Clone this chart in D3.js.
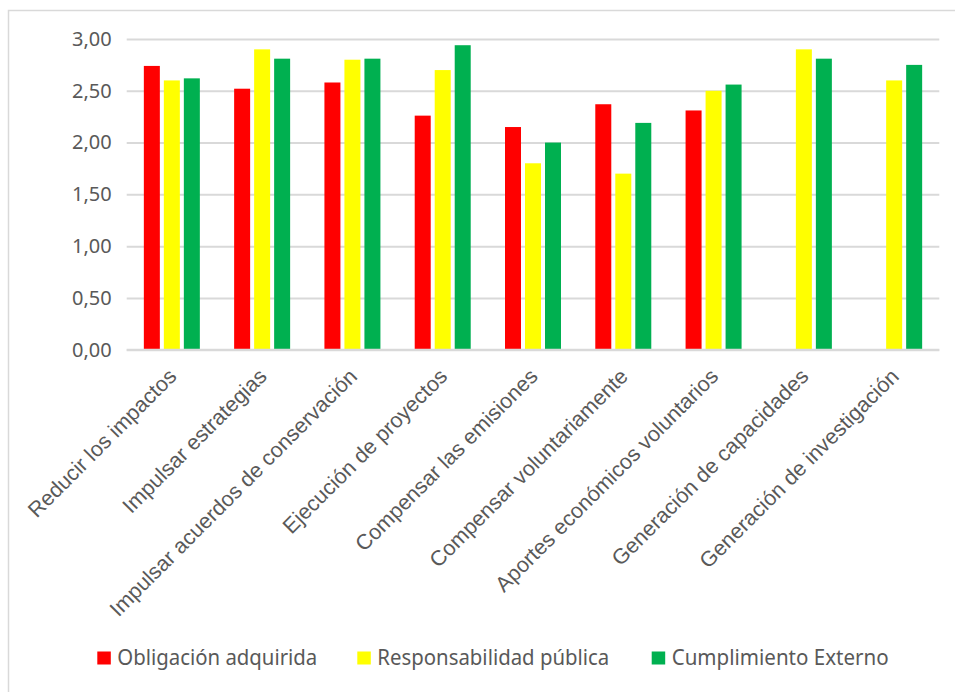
<!DOCTYPE html>
<html><head><meta charset="utf-8">
<script src="https://cdn.jsdelivr.net/npm/d3@7"></script>
<style>body{margin:0;background:#fff;}</style>
</head><body>
<svg id="c" width="955" height="692"></svg>
<script>
const categories = ["Reducir los impactos","Impulsar estrategias","Impulsar acuerdos de conservación","Ejecución de proyectos","Compensar las emisiones","Compensar voluntariamente","Aportes económicos voluntarios","Generación de capacidades","Generación de investigación"];
const seriesNames = ["Obligación adquirida","Responsabilidad pública","Cumplimiento Externo"];
const seriesColors = ["#FF0000","#FFFF00","#00B050"];
const obligacion = [2.74,2.52,2.58,2.26,2.15,2.37,2.31,null,null];
const responsabilidad = [2.60,2.90,2.80,2.70,1.80,1.70,2.50,2.90,2.60];
const cumplimiento = [2.62,2.81,2.81,2.94,2.00,2.19,2.56,2.81,2.75];
const yTicks = [0,0.5,1,1.5,2,2.5,3];
const legendWidths = [200,232,217];

(function(){
const series = [obligacion, responsabilidad, cumplimiento];
const svg = d3.select("#c");
svg.append("rect").attr("x",8.5).attr("y",10.5).attr("width",960).attr("height",700)
  .attr("fill","#fff").attr("stroke","#d9d9d9").attr("stroke-width",1.5);

const pL=126.7, pR=939.3, pT=39, pB=349.7;
const x = d3.scaleBand().domain(categories).range([pL,pR]).paddingInner(0).paddingOuter(0);
const y = d3.scaleLinear().domain([0,3]).range([pB,pT]);
const barW = 16, stride = 20;

const fmt = v => d3.format(".2f")(v).replace(".",",");
const gy = svg.append("g").attr("transform",`translate(${pL},0)`)
  .call(d3.axisLeft(y).tickValues(yTicks).tickFormat(fmt).tickSize(-(pR-pL)).tickPadding(15));
gy.select(".domain").remove();
gy.selectAll(".tick line").attr("stroke","#d9d9d9").attr("stroke-width",2);
gy.selectAll(".tick text").attr("fill","#595959").attr("font-family","'Noto Sans', sans-serif").attr("font-size","20px");

series.forEach((vals,si)=>{
  svg.append("g").selectAll("rect").data(categories.map((c,i)=>({c,v:vals[i]})).filter(d=>d.v!=null))
    .enter().append("rect")
    .attr("x",d=>x(d.c)+x.bandwidth()/2 + (si-1)*stride - barW/2)
    .attr("y",d=>y(d.v)).attr("width",barW).attr("height",d=>y(0)-y(d.v))
    .attr("fill",seriesColors[si]);
});

svg.append("line").attr("x1",pL).attr("x2",pR).attr("y1",pB).attr("y2",pB)
  .attr("stroke","#d9d9d9").attr("stroke-width",2);

const gx = svg.append("g").attr("transform",`translate(0,${pB})`)
  .call(d3.axisBottom(x).tickSize(0).tickPadding(0));
gx.select(".domain").remove();
gx.selectAll(".tick text")
  .attr("font-family","'Liberation Sans', Arial, sans-serif").attr("font-size","21.5px").attr("fill","#595959")
  .attr("text-anchor","end").attr("dy",0).attr("y",0)
  .attr("transform","translate(6,28) rotate(-45)");

const legX = [97.3,357.3,651.7];
const leg = svg.append("g");
seriesNames.forEach((n,i)=>{
  leg.append("rect").attr("x",legX[i]).attr("y",651.5).attr("width",13.5).attr("height",13).attr("fill",seriesColors[i]);
  leg.append("text").attr("x",legX[i]+20).attr("y",665).text(n)
    .attr("font-family","'Noto Sans', sans-serif").attr("font-size","21px").attr("fill","#595959")
    .attr("textLength",legendWidths[i]).attr("lengthAdjust","spacingAndGlyphs");
});
})();
</script>
</body></html>
